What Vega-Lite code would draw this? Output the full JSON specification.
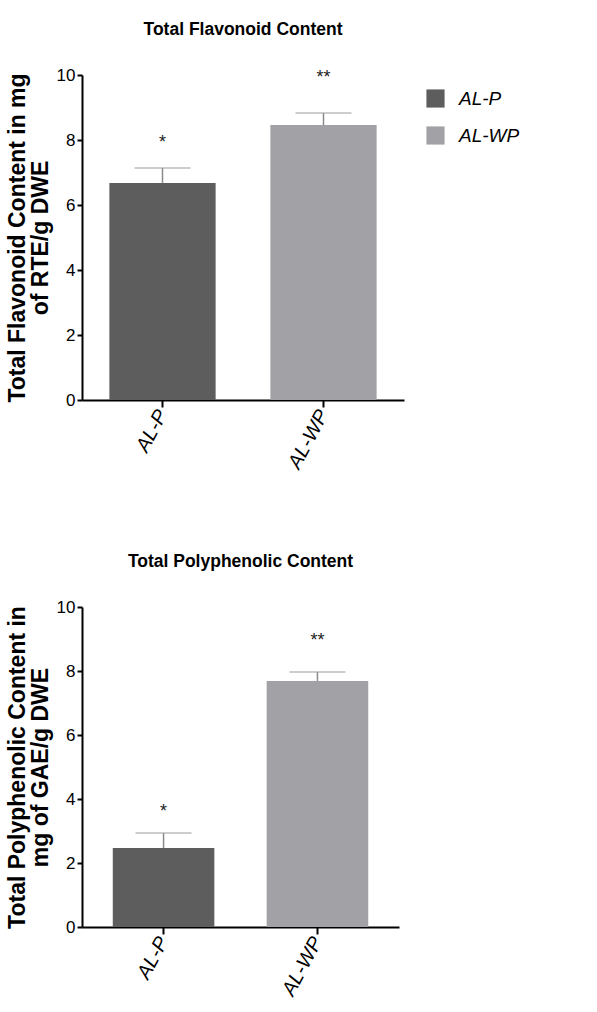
{
  "$schema": "https://vega.github.io/schema/vega-lite/v6.json",
  "background": "white",
  "padding": {"left": 6, "top": 20, "right": 5, "bottom": 5},
  "spacing": 80,
  "config": {
    "font": "Liberation Sans",
    "view": {"stroke": null},
    "axis": {"domainColor": "black", "domainWidth": 2, "tickColor": "black", "tickWidth": 2, "grid": false, "labelColor": "black", "titleColor": "black"},
    "title": {"font": "Liberation Sans", "fontSize": 17.5, "fontWeight": "bold", "color": "black", "offset": 28},
    "legend": {"padding": 0}
  },
  "vconcat": [
    {
      "title": {"text": "Total Flavonoid Content"},
      "width": 322,
      "height": 325,
      "data": {"values": [
        {"group": "AL-P", "value": 6.68, "upper": 7.14, "sig": "*", "sigY": 7.9},
        {"group": "AL-WP", "value": 8.46, "upper": 8.83, "sig": "**", "sigY": 9.9}
      ]},
      "encoding": {
        "x": {"field": "group", "type": "nominal", "scale": {"paddingInner": 0.34, "paddingOuter": 0.17},
          "axis": {"title": null, "labelAngle": -62, "labelFontStyle": "italic", "labelFontSize": 20, "tickSize": 7, "labelPadding": 4}}
      },
      "layer": [
        {
          "mark": {"type": "bar"},
          "encoding": {
            "y": {"field": "value", "type": "quantitative", "scale": {"domain": [0, 10]}, "title": ["Total Flavonoid Content in mg", "of RTE/g DWE"],
              "axis": {"titleFontSize": 23, "titleFontWeight": "bold", "titleLineHeight": 23, "titlePadding": 4, "values": [0, 2, 4, 6, 8, 10], "labelFontSize": 17, "tickSize": 5, "labelPadding": 2}},
            "color": {"field": "group", "type": "nominal", "scale": {"range": ["#5d5d5d", "#a2a2a6"]},
              "legend": {"title": null, "orient": "none", "legendX": 344, "legendY": 14, "symbolType": "square", "symbolSize": 330, "symbolStrokeWidth": 0, "labelFontSize": 19, "labelFontStyle": "italic", "labelOffset": 14, "rowPadding": 17, "labelColor": "black"}}
          }
        },
        {
          "mark": {"type": "rule", "color": "#8a8a8a", "strokeWidth": 1.5},
          "encoding": {"y": {"field": "value", "type": "quantitative", "title": ["Total Flavonoid Content in mg", "of RTE/g DWE"]}, "y2": {"field": "upper"}}
        },
        {
          "mark": {"type": "tick", "size": 56, "thickness": 1.5, "color": "#a0a0a0"},
          "encoding": {"y": {"field": "upper", "type": "quantitative", "title": ["Total Flavonoid Content in mg", "of RTE/g DWE"]}}
        },
        {
          "mark": {"type": "text", "fontSize": 18, "color": "#222"},
          "encoding": {"y": {"field": "sigY", "type": "quantitative", "title": ["Total Flavonoid Content in mg", "of RTE/g DWE"]}, "text": {"field": "sig"}}
        }
      ]
    },
    {
      "title": {"text": "Total Polyphenolic Content"},
      "width": 317,
      "height": 320,
      "data": {"values": [
        {"group": "AL-P", "value": 2.47, "upper": 2.94, "sig": "*", "sigY": 3.6},
        {"group": "AL-WP", "value": 7.69, "upper": 7.97, "sig": "**", "sigY": 8.95}
      ]},
      "encoding": {
        "x": {"field": "group", "type": "nominal", "scale": {"paddingInner": 0.34, "paddingOuter": 0.2},
          "axis": {"title": null, "labelAngle": -62, "labelFontStyle": "italic", "labelFontSize": 20, "tickSize": 7, "labelPadding": 4}}
      },
      "layer": [
        {
          "mark": {"type": "bar"},
          "encoding": {
            "y": {"field": "value", "type": "quantitative", "scale": {"domain": [0, 10]}, "title": ["Total Polyphenolic Content in", "mg of GAE/g DWE"],
              "axis": {"titleFontSize": 23, "titleFontWeight": "bold", "titleLineHeight": 23, "titlePadding": 4, "values": [0, 2, 4, 6, 8, 10], "labelFontSize": 17, "tickSize": 5, "labelPadding": 2}},
            "color": {"field": "group", "type": "nominal", "scale": {"range": ["#5d5d5d", "#a2a2a6"]},
              "legend": {"title": null, "orient": "none", "legendX": 339, "legendY": 13, "symbolType": "square", "symbolSize": 330, "symbolStrokeWidth": 0, "labelFontSize": 19, "labelFontStyle": "italic", "labelOffset": 14, "rowPadding": 17, "labelColor": "black"}}
          }
        },
        {
          "mark": {"type": "rule", "color": "#8a8a8a", "strokeWidth": 1.5},
          "encoding": {"y": {"field": "value", "type": "quantitative", "title": ["Total Polyphenolic Content in", "mg of GAE/g DWE"]}, "y2": {"field": "upper"}}
        },
        {
          "mark": {"type": "tick", "size": 56, "thickness": 1.5, "color": "#a0a0a0"},
          "encoding": {"y": {"field": "upper", "type": "quantitative", "title": ["Total Polyphenolic Content in", "mg of GAE/g DWE"]}}
        },
        {
          "mark": {"type": "text", "fontSize": 18, "color": "#222"},
          "encoding": {"y": {"field": "sigY", "type": "quantitative", "title": ["Total Polyphenolic Content in", "mg of GAE/g DWE"]}, "text": {"field": "sig"}}
        }
      ]
    }
  ]
}
